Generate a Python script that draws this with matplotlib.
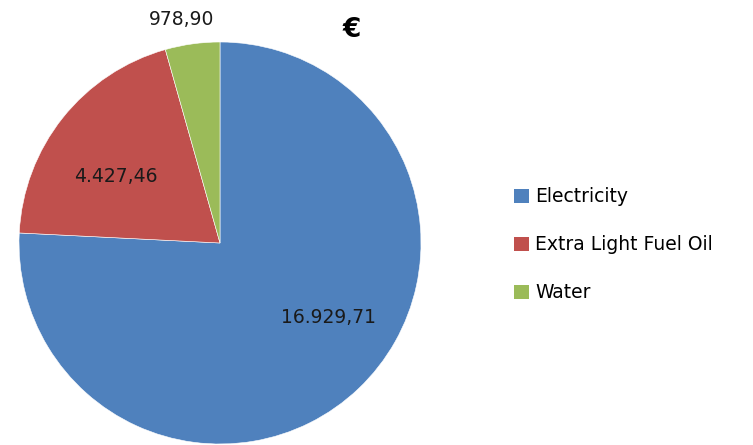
import matplotlib
matplotlib.use('Agg')
import matplotlib.pyplot as plt
from matplotlib.patches import Patch

# data
categories = ['Electricity', 'Extra Light Fuel Oil', 'Water']
values = [16929.71, 4427.46, 978.90]
value_labels = ['16.929,71', '4.427,46', '978,90']
colors = ['#4F81BD', '#C0504D', '#9BBB59']

plt.rcParams['font.family'] = ['DejaVu Sans']

fig = plt.figure(figsize=(7.53, 4.45), dpi=100)
ax = fig.add_axes([19 / 753, 1 / 445, 402 / 753, 402 / 445])

wedges, _ = ax.pie(values, colors=colors, startangle=90, counterclock=False,
                   radius=1.0, wedgeprops=dict(edgecolor='white', linewidth=0.4))
ax.set_xlim(-1, 1)
ax.set_ylim(-1, 1)
ax.set_aspect('equal')

# value labels (placed roughly where the original spreadsheet put them)
label_pos = [(0.54, -0.37), (-0.52, 0.33), (-0.19, 1.11)]
for (x, y), txt in zip(label_pos, value_labels):
    ax.text(x, y, txt, ha='center', va='center', fontsize=13.5, color='#1a1a1a')
ax.text(0.655, 1.06, '€', ha='center', va='center', fontsize=19,
        fontweight='bold', color='black', clip_on=False)

handles = [Patch(facecolor=c, edgecolor='none') for c in colors]
fig.legend(handles, categories, loc='center left', bbox_to_anchor=(0.66, 0.45),
           frameon=False, fontsize=13.5, handlelength=0.8, handleheight=0.8,
           handletextpad=0.35, labelspacing=1.55)

fig.savefig('out.png', dpi=100)
